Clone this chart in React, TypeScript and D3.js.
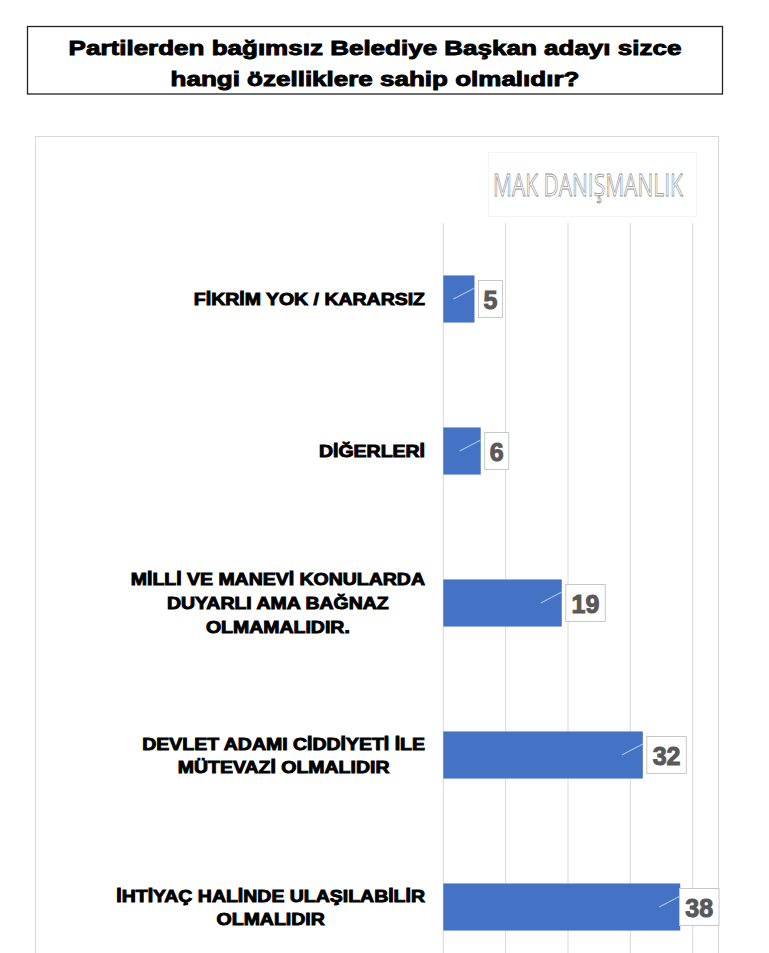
import { useEffect, useRef } from 'react'
import * as d3 from 'd3'

const titleLines = ['Partilerden bağımsız Belediye Başkan adayı sizce', 'hangi özelliklere sahip olmalıdır?']
const categories = [
    ['FİKRİM YOK / KARARSIZ'],
    ['DİĞERLERİ'],
    ['MİLLİ VE MANEVİ KONULARDA', 'DUYARLI AMA BAĞNAZ', 'OLMAMALIDIR.'],
    ['DEVLET ADAMI CİDDİYETİ İLE', 'MÜTEVAZİ OLMALIDIR'],
    ['İHTİYAÇ HALİNDE ULAŞILABİLİR', 'OLMALIDIR'],
]
const values = [5, 6, 19, 32, 38]
const xTicks = [0, 10, 20, 30, 40]
const watermark = 'MAK DANIŞMANLIK'

// widen Liberation Sans Bold towards an Arial Black look
function stretch(sel: d3.Selection<SVGTextElement, any, any, any>, k: number) {
    sel.each(function () {
        const w = this.getComputedTextLength();
        d3.select(this).attr('textLength', w * k).attr('lengthAdjust', 'spacingAndGlyphs');
    });
}

export default function App() {
    const svgRef = useRef<SVGSVGElement>(null);

    useEffect(() => {
        if (!svgRef.current) return;
        const width = 769;
        const height = 953;
        const svg = d3.select(svgRef.current);
        svg.attr('width', width).attr('height', height);
        svg.selectAll('*').remove();

        const heavy = '"Liberation Sans", Arial, sans-serif';

        // title box
        svg.append('rect')
            .attr('x', 27.5).attr('y', 26.5)
            .attr('width', 695).attr('height', 67.5)
            .attr('fill', '#fff').attr('stroke', '#222').attr('stroke-width', 1.3);
        const title = svg.append('g').selectAll<SVGTextElement, string>('text')
            .data(titleLines)
            .enter()
            .append('text')
            .attr('x', 375)
            .attr('y', (d, i) => 54.5 + i * 31.2)
            .attr('text-anchor', 'middle')
            .attr('font-family', heavy)
            .attr('font-weight', 'bold')
            .attr('font-size', '20px')
            .attr('fill', '#000')
            .attr('stroke', '#000')
            .attr('stroke-width', 0.9)
            .text(d => d);
        stretch(title, 1.3);

        // chart frame
        svg.append('rect')
            .attr('x', 35.5).attr('y', 136.5)
            .attr('width', 683).attr('height', 900)
            .attr('fill', '#fff').attr('stroke', '#d9d9d9').attr('stroke-width', 1);

        const x = d3.scaleLinear()
            .domain([0, 40])
            .range([443.3, 692.7]);
        const y = d3.scaleBand()
            .domain(categories.map((_, i) => String(i)))
            .range([223, 983])
            .paddingInner(0.69)
            .paddingOuter(0.345);

        // watermark, squeezed horizontally to the condensed look
        const wm = svg.append('g').attr('opacity', 0.999);
        wm.append('rect')
            .attr('x', 488.5).attr('y', 152.5)
            .attr('width', 208).attr('height', 64)
            .attr('fill', '#fff').attr('stroke', '#f4f4f4');
        const wmText = wm.append('text')
            .attr('x', 0).attr('y', 0)
            .attr('font-family', '"Open Sans", sans-serif')
            .attr('font-size', '31px')
            .attr('fill', '#fff')
            .attr('stroke', '#8f8f8f')
            .attr('stroke-width', 0.8)
            .text(watermark);
        const wmW = (wmText.node() as SVGTextElement).getComputedTextLength();
        wmText.attr('transform', `translate(493,195.5) scale(${190 / wmW},1)`);

        // gridlines
        svg.append('g').selectAll('line')
            .data(xTicks)
            .enter()
            .append('line')
            .attr('x1', d => x(d)).attr('x2', d => x(d))
            .attr('y1', 223).attr('y2', height)
            .attr('stroke', '#d9d9d9').attr('stroke-width', 1);

        // bars
        svg.append('g').selectAll('rect')
            .data(values)
            .enter()
            .append('rect')
            .attr('x', x(0))
            .attr('y', (d, i) => y(String(i)) || 0)
            .attr('width', d => x(d) - x(0))
            .attr('height', y.bandwidth())
            .attr('fill', '#4472c4');

        // category labels, lines centred inside a right aligned block
        const labels = svg.append('g');
        categories.forEach((lines, i) => {
            const cy = (y(String(i)) || 0) + y.bandwidth() / 2;
            const lh = lines.length > 2 ? 24 : 23;
            const k = 1.18;
            const texts = labels.append('g').selectAll<SVGTextElement, string>('text')
                .data(lines)
                .enter()
                .append('text')
                .attr('y', (d, j) => cy + (j - (lines.length - 1) / 2) * lh + 6)
                .attr('text-anchor', 'middle')
                .attr('font-family', heavy)
                .attr('font-weight', 'bold')
                .attr('font-size', '16.5px')
                .attr('fill', '#000')
                .attr('stroke', '#000')
                .attr('stroke-width', 0.9)
                .text(d => d);
            let maxW = 0;
            texts.each(function () {
                maxW = Math.max(maxW, this.getComputedTextLength());
            });
            stretch(texts, k);
            texts.attr('x', 425 - (maxW * k) / 2);
        });

        // data labels
        const dl = svg.append('g');
        values.forEach((v, i) => {
            const cy = (y(String(i)) || 0) + y.bandwidth() / 2;
            const end = x(v);
            const bw = String(v).length > 1 ? 39.5 : 24;
            const bx = Math.min(end + 4, 719 - bw);
            dl.append('line')
                .attr('x1', end - 21).attr('y1', cy)
                .attr('x2', end).attr('y2', cy - 11)
                .attr('stroke', '#a9c1e8').attr('stroke-width', 1.2);
            dl.append('rect')
                .attr('x', bx).attr('y', cy - 18.5)
                .attr('width', bw).attr('height', 37)
                .attr('fill', '#fff').attr('stroke', '#c8c8c8').attr('stroke-width', 1);
            dl.append('text')
                .attr('x', bx + bw / 2).attr('y', cy + 9.5)
                .attr('text-anchor', 'middle')
                .attr('font-family', heavy)
                .attr('font-weight', 'bold')
                .attr('font-size', '25px')
                .attr('fill', '#595959')
                .attr('stroke', '#595959')
                .attr('stroke-width', 1)
                .text(v);
        });
    }, []);

    return (
        <div style={{ position: 'absolute', left: 0, top: 0 }}>
            <svg ref={svgRef} style={{ display: 'block' }} />
        </div>
    );
}
